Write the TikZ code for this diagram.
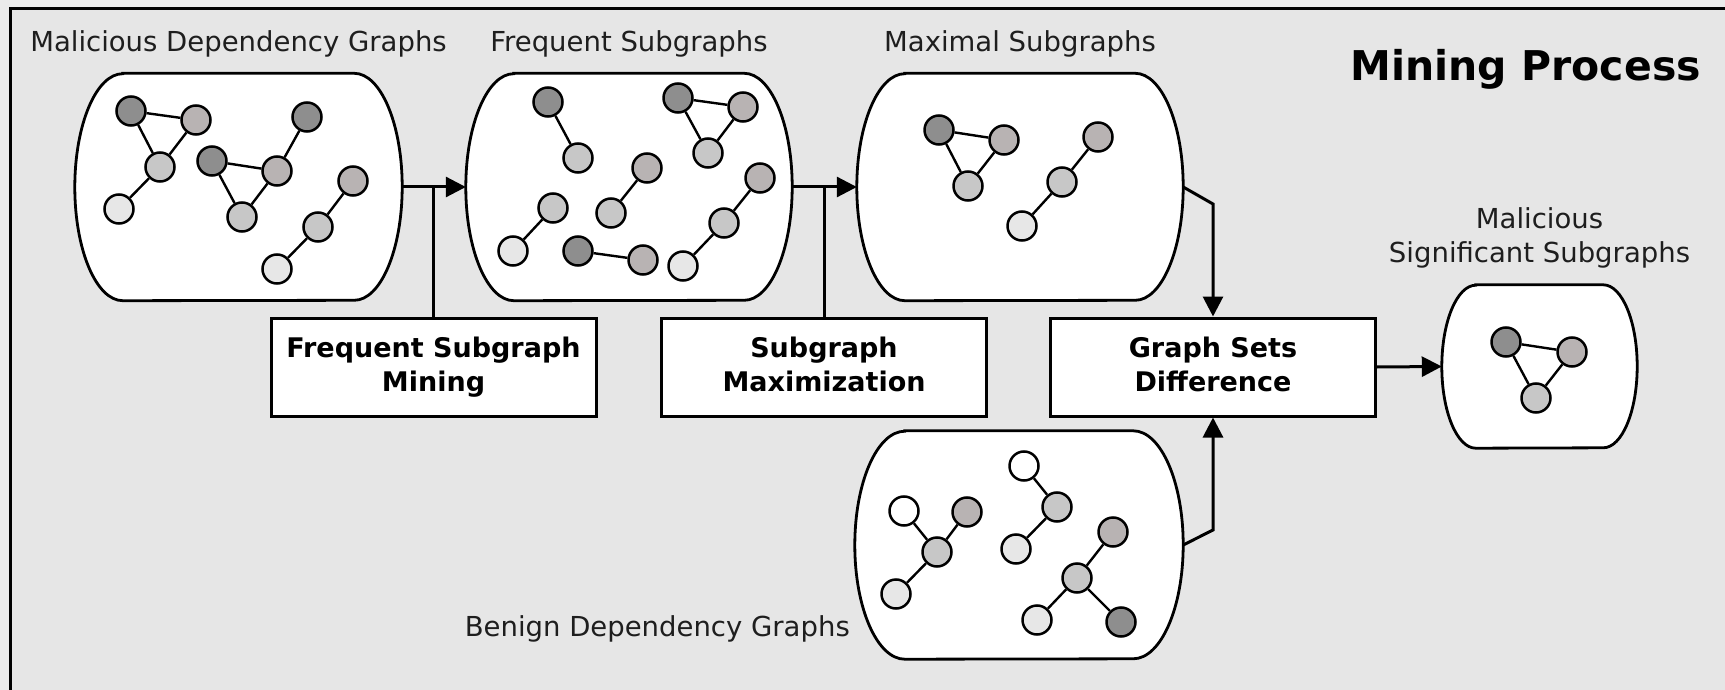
\documentclass[tikz,border=0pt]{standalone}
\usepackage{fontspec}
\setmainfont{DejaVu Sans}
\usetikzlibrary{arrows.meta}

\definecolor{outerbg}{HTML}{EBEBEB}
\definecolor{innerbg}{HTML}{E6E6E6}
\definecolor{ink}{HTML}{1E1E1E}
\definecolor{gdark}{HTML}{8E8E8E}
\definecolor{gwarm}{HTML}{B8B3B3}
\definecolor{glight}{HTML}{C7C7C7}
\definecolor{gvlight}{HTML}{E7E7E7}

% barrel outline drawn around an (invisible) rectangular node:
% #1 node name, #2 side bulge, #3 half height
\newcommand\drawbarrel[3]{%
  \path[barrelline] ([xshift=#2]#1.north west) -- ([xshift=-#2]#1.north east)
    arc[start angle=90,end angle=-90,x radius=#2,y radius=#3]
    -- ([xshift=#2]#1.south west)
    arc[start angle=270,end angle=90,x radius=#2,y radius=#3] -- cycle;}

\tikzset{
  holder/.style={draw=none,inner sep=0pt,minimum width=#1},
  barrelline/.style={draw=black,fill=white,line width=2.8pt},
  gn/.style={circle,draw=black,line width=2.5pt,minimum size=29pt,inner sep=0pt,fill=#1},
  gedge/.style={line width=2.4pt},
  procbox/.style={rectangle,draw=black,fill=white,line width=3pt,
    minimum width=325pt,minimum height=98pt,align=center,
    font=\fontsize{27}{34}\selectfont\bfseries,
    execute at end node={\vphantom{g}}},
  lbl/.style={inner sep=0pt,text=ink,font=\fontsize{27.5}{34}\selectfont},
  conn/.style={line width=3pt,-{Triangle[length=20pt,width=20pt]}},
  link/.style={line width=3pt},
}

\begin{document}
\begin{tikzpicture}[x=1pt,y=-1pt]
\useasboundingbox (0,0) rectangle (1725,690);
\clip (0,0) rectangle (1725,690);
% page and frame
\fill[outerbg] (0,0) rectangle (1725,690);
\draw[fill=innerbg,line width=3pt] (10.5,8.5) rectangle (1740,710);

% titles
\node[lbl,anchor=base] (tmal) at (238.5,51.5) {Malicious Dependency Graphs};
\node[lbl,anchor=base] (tfreq) at (629,51.5) {Frequent Subgraphs};
\node[lbl,anchor=base] (tmax) at (1020,51.5) {Maximal Subgraphs};
\node[inner sep=0pt,anchor=base east,text=black,font=\fontsize{41}{48}\selectfont\bfseries] (title) at (1701,81) {Mining Process};
\node[lbl,anchor=base,align=center] (tres) at (1539.5,262) {Malicious\\Significant Subgraphs};
\node[lbl,anchor=base east] (tben) at (850,636) {Benign Dependency Graphs};

% graph-set containers
\node[holder=327pt,minimum height=227pt] (mal) at (238.5,187) {};
\drawbarrel{mal}{48pt}{113.5pt}
\node[holder=326pt,minimum height=227pt] (freq) at (629,187) {};
\drawbarrel{freq}{48pt}{113.5pt}
\node[holder=326pt,minimum height=227pt] (maxi) at (1020,187) {};
\drawbarrel{maxi}{48pt}{113.5pt}
\node[holder=328pt,minimum height=228pt] (ben) at (1019,545) {};
\drawbarrel{ben}{50pt}{114pt}
\node[holder=195pt,minimum height=163pt] (res) at (1539.5,366.5) {};
\drawbarrel{res}{34pt}{81.5pt}

% processing steps
\node[procbox] (fsm) at (433.5,367) {Frequent Subgraph\\Mining};
\node[procbox] (sm) at (824,367) {Subgraph\\Maximization};
\node[procbox] (gsd) at (1213,367) {Graph Sets\\Difference};

% connectors
\draw[conn] (mal.east) -- (freq.west);
\draw[link] (fsm.north) -- (fsm.north |- mal.east);
\draw[conn] (freq.east) -- (maxi.west);
\draw[link] (sm.north) -- (sm.north |- freq.east);
\draw[conn] (maxi.east) -- ([yshift=-17pt]maxi.east -| gsd.north) -- (gsd.north);
\draw[conn] (ben.east) -- ([yshift=15pt]ben.east -| gsd.south) -- (gsd.south);
\draw[conn] (gsd.east) -- (res.west);

% malicious dependency graphs
\node[gn=gdark] (m1) at (131,111) {};
\node[gn=gwarm] (m2) at (196,120) {};
\node[gn=glight] (m3) at (160,167) {};
\node[gn=gvlight] (m4) at (119,209) {};
\node[gn=gdark] (m5) at (307,117) {};
\node[gn=gdark] (m6) at (212,161) {};
\node[gn=gwarm] (m7) at (277,171) {};
\node[gn=glight] (m8) at (242,217) {};
\node[gn=gwarm] (m9) at (353,181) {};
\node[gn=glight] (m10) at (318,227) {};
\node[gn=gvlight] (m11) at (277,269) {};
\draw[gedge] (m1) -- (m2) (m1) -- (m3) (m2) -- (m3) (m3) -- (m4);
\draw[gedge] (m6) -- (m7) (m6) -- (m8) (m7) -- (m8) (m7) -- (m5);
\draw[gedge] (m9) -- (m10) (m10) -- (m11);

% frequent subgraphs
\node[gn=gdark] (f1) at (548,102) {};
\node[gn=glight] (f2) at (578,158) {};
\node[gn=gdark] (f3) at (678,98) {};
\node[gn=gwarm] (f4) at (743,107) {};
\node[gn=glight] (f5) at (708,153) {};
\node[gn=gwarm] (f6) at (647,168) {};
\node[gn=glight] (f7) at (611,213) {};
\node[gn=glight] (f8) at (553,208) {};
\node[gn=gvlight] (f9) at (513,251) {};
\node[gn=gdark] (f10) at (578,251) {};
\node[gn=gwarm] (f11) at (643,260) {};
\node[gn=gwarm] (f12) at (760,178) {};
\node[gn=glight] (f13) at (724,223) {};
\node[gn=gvlight] (f14) at (683,266) {};
\draw[gedge] (f1) -- (f2);
\draw[gedge] (f3) -- (f4) (f3) -- (f5) (f4) -- (f5);
\draw[gedge] (f6) -- (f7) (f8) -- (f9) (f10) -- (f11);
\draw[gedge] (f12) -- (f13) (f13) -- (f14);

% maximal subgraphs
\node[gn=gdark] (x1) at (939,130) {};
\node[gn=gwarm] (x2) at (1004,140) {};
\node[gn=glight] (x3) at (968,186) {};
\node[gn=gwarm] (x4) at (1098,137) {};
\node[gn=glight] (x5) at (1062,182) {};
\node[gn=gvlight] (x6) at (1022,226) {};
\draw[gedge] (x1) -- (x2) (x1) -- (x3) (x2) -- (x3);
\draw[gedge] (x4) -- (x5) (x5) -- (x6);

% benign dependency graphs
\node[gn=white] (b1) at (904,511) {};
\node[gn=gwarm] (b2) at (967,512) {};
\node[gn=glight] (b3) at (937,552) {};
\node[gn=gvlight] (b4) at (896,594) {};
\node[gn=white] (b5) at (1024,466) {};
\node[gn=glight] (b6) at (1057,507) {};
\node[gn=gvlight] (b7) at (1016,549) {};
\node[gn=gwarm] (b8) at (1113,532) {};
\node[gn=glight] (b9) at (1077,578) {};
\node[gn=gvlight] (b10) at (1037,620) {};
\node[gn=gdark] (b11) at (1121,622) {};
\draw[gedge] (b1) -- (b3) (b2) -- (b3) (b3) -- (b4);
\draw[gedge] (b5) -- (b6) (b6) -- (b7);
\draw[gedge] (b8) -- (b9) (b9) -- (b10) (b9) -- (b11);

% malicious significant subgraphs
\node[gn=gdark] (r1) at (1506,342) {};
\node[gn=gwarm] (r2) at (1572,352) {};
\node[gn=glight] (r3) at (1536,398) {};
\draw[gedge] (r1) -- (r2) (r1) -- (r3) (r2) -- (r3);
\end{tikzpicture}
\end{document}
